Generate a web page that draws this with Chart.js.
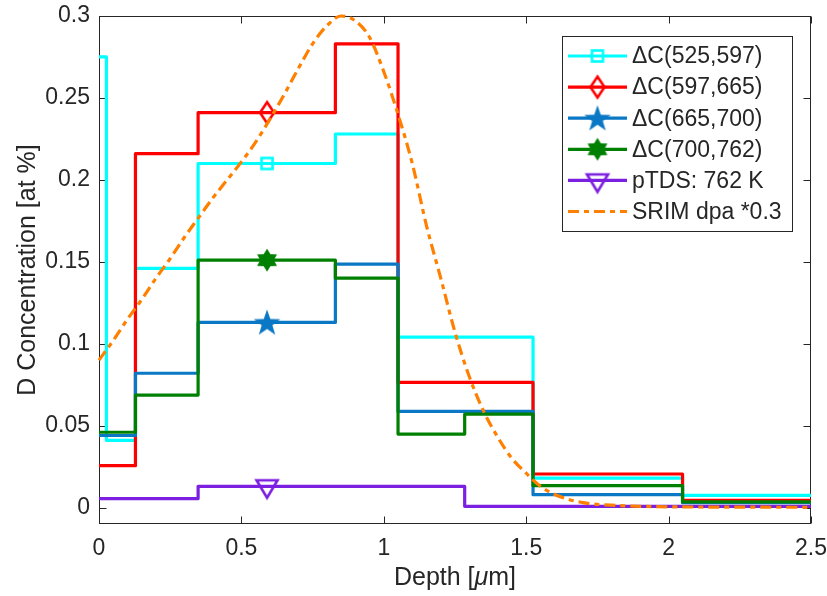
<!DOCTYPE html>
<html><head><meta charset="utf-8">
<script src="https://cdn.jsdelivr.net/npm/chart.js@4.4.1/dist/chart.umd.min.js"></script>
<style>html,body{margin:0;padding:0;background:#fff}#wrap{width:827px;height:596px;position:relative}</style>
</head><body><div id="wrap"><canvas id="c" width="827" height="596"></canvas></div>
<script>
// ---- data ----
const depthEdges = [0, 0.026, 0.128, 0.348, 0.830, 1.050, 1.284, 1.524, 2.049, 2.5];
const dc525_597 = [0.275, 0.041, 0.146, 0.210, 0.228, 0.104, 0.104, 0.018, 0.0075];
const dc597_665 = [0.0256, 0.0256, 0.216, 0.241, 0.283, 0.0764, 0.0764, 0.0205, 0.0045];
const dc665_700 = [0.044, 0.044, 0.082, 0.113, 0.1486, 0.0587, 0.0587, 0.0079, 0.003];
const dc700_762 = [0.046, 0.046, 0.0687, 0.151, 0.140, 0.0449, 0.057, 0.0134, 0.0035];
const ptds762 = [0.0055, 0.0055, 0.0055, 0.013, 0.013, 0.013, 0.0008, 0.0008, 0.0008];
const srimDepth = [0, 0.05, 0.1, 0.15, 0.2, 0.25, 0.3, 0.35, 0.4, 0.45, 0.5, 0.55, 0.6, 0.65, 0.7, 0.75, 0.8, 0.85, 0.9, 0.95, 1.0, 1.05, 1.1, 1.15, 1.2, 1.25, 1.3, 1.35, 1.4, 1.45, 1.5, 1.55, 1.6, 1.7, 1.8, 1.9, 2.0, 2.2, 2.5];
const srimDpa = [0.090, 0.102, 0.115, 0.127, 0.140, 0.152, 0.165, 0.177, 0.189, 0.200, 0.211, 0.223, 0.237, 0.252, 0.268, 0.283, 0.294, 0.300, 0.297, 0.287, 0.266, 0.240, 0.210, 0.172, 0.140, 0.107, 0.080, 0.059, 0.043, 0.030, 0.021, 0.013, 0.008, 0.003, 0.0015, 0.0008, 0.0005, 0.0003, 0.0002];
const markerDepth = 0.59;
const seriesNames = ['\u0394C(525,597)', '\u0394C(597,665)', '\u0394C(665,700)', '\u0394C(700,762)', 'pTDS: 762 K', 'SRIM dpa *0.3'];
const xTicks = [0, 0.5, 1, 1.5, 2, 2.5];
const xTickLabels = ['0', '0.5', '1', '1.5', '2', '2.5'];
const yTicks = [0, 0.05, 0.1, 0.15, 0.2, 0.25, 0.3];
const yTickLabels = ['0', '0.05', '0.1', '0.15', '0.2', '0.25', '0.3'];
const yTitle = 'D Concentration [at %]';

// ---- styles ----
const FONT = '"Liberation Sans", Arial, sans-serif';
const AX = '#262626';
const COLORS = ['#00FFFF', '#FF0000', '#0A78C4', '#008000', '#7B1FE0', '#FF8000'];
const LW = 3.2;
const DASH = [11, 5, 5, 5];

function mk(draw) {
  const c = document.createElement('canvas');
  c.width = 34; c.height = 34;
  const g = c.getContext('2d');
  draw(g, 17, 17);
  return c;
}
function starPath(g, cx, cy, n, R, r) {
  g.beginPath();
  for (let i = 0; i < 2 * n; i++) {
    const a = -Math.PI / 2 + i * Math.PI / n;
    const rr = i % 2 === 0 ? R : r;
    const px = cx + rr * Math.cos(a), py = cy + rr * Math.sin(a);
    if (i === 0) g.moveTo(px, py); else g.lineTo(px, py);
  }
  g.closePath();
}
const markers = [
  mk((g, cx, cy) => { g.strokeStyle = COLORS[0]; g.lineWidth = 2.6; g.strokeRect(cx - 5.5, cy - 5.5, 11, 11); }),
  mk((g, cx, cy) => { g.strokeStyle = COLORS[1]; g.lineWidth = 2.6; g.beginPath(); g.moveTo(cx, cy - 10.5); g.lineTo(cx + 7, cy); g.lineTo(cx, cy + 10.5); g.lineTo(cx - 7, cy); g.closePath(); g.stroke(); }),
  mk((g, cx, cy) => { g.fillStyle = COLORS[2]; starPath(g, cx, cy + 1, 5, 14, 5.6); g.fill(); }),
  mk((g, cx, cy) => { g.fillStyle = COLORS[3]; starPath(g, cx, cy, 6, 11.5, 6.8); g.fill(); }),
  mk((g, cx, cy) => { g.strokeStyle = COLORS[4]; g.lineWidth = 2.6; g.lineJoin = 'miter'; g.beginPath(); g.moveTo(cx - 10.5, cy - 6); g.lineTo(cx + 10.5, cy - 6); g.lineTo(cx, cy + 11.5); g.closePath(); g.stroke(); }),
];

function stepPoints(vals) {
  const pts = [];
  for (let i = 0; i < vals.length; i++) {
    pts.push({x: depthEdges[i], y: vals[i], m: false});
    if (markerDepth > depthEdges[i] && markerDepth < depthEdges[i + 1]) pts.push({x: markerDepth, y: vals[i], m: true});
  }
  pts.push({x: depthEdges[depthEdges.length - 1], y: vals[vals.length - 1], m: false});
  return pts;
}
const stepSeries = [dc525_597, dc597_665, dc665_700, dc700_762, ptds762];
const datasets = stepSeries.map((vals, k) => ({
  label: seriesNames[k],
  data: stepPoints(vals),
  borderColor: COLORS[k],
  backgroundColor: COLORS[k],
  borderWidth: LW,
  borderJoinStyle: 'round',
  stepped: 'before',
  fill: false,
  pointStyle: markers[k],
  pointRadius: ctx => (ctx.raw && ctx.raw.m) ? 8 : 0,
  pointHoverRadius: 0,
  order: 6 - k,
  clip: 2,
}));
datasets.push({
  label: seriesNames[5],
  data: srimDepth.map((x, i) => ({x: x, y: srimDpa[i]})),
  borderColor: COLORS[5],
  borderWidth: LW,
  borderDash: DASH,
  cubicInterpolationMode: 'monotone',
  tension: 0.4,
  pointRadius: 0,
  fill: false,
  order: 0,
  clip: 2,
});

const framePlugin = {
  id: 'frame',
  beforeDatasetsDraw(chart) {
    const {ctx, chartArea: a, scales: {x, y}} = chart;
    ctx.save();
    ctx.strokeStyle = AX; ctx.lineWidth = 1;
    const L = Math.round(a.left) + 0.5, R = Math.round(a.right) - 0.5, T = Math.round(a.top) + 0.5, B = Math.round(a.bottom) - 0.5;
    ctx.strokeRect(L, T, R - L, B - T);
    ctx.beginPath();
    const tl = 7;
    xTicks.forEach(v => {
      const px = Math.round(x.getPixelForValue(v)) + 0.5;
      ctx.moveTo(px, B); ctx.lineTo(px, B - tl);
      ctx.moveTo(px, T); ctx.lineTo(px, T + tl);
    });
    yTicks.forEach(v => {
      const py = Math.round(y.getPixelForValue(v)) + 0.5;
      ctx.moveTo(L, py); ctx.lineTo(L + tl, py);
      ctx.moveTo(R, py); ctx.lineTo(R - tl, py);
    });
    ctx.stroke();
    ctx.restore();
  },
  afterDraw(chart) {
    const {ctx, chartArea: a} = chart;
    ctx.save();
    // x title with italic mu
    const fs = 25;
    const p1 = 'Depth [', p2 = '\u03BC', p3 = 'm]';
    ctx.fillStyle = AX; ctx.textBaseline = 'middle'; ctx.textAlign = 'left';
    ctx.font = fs + 'px ' + FONT; const w1 = ctx.measureText(p1).width, w3 = ctx.measureText(p3).width;
    ctx.font = 'italic ' + fs + 'px ' + FONT; const w2 = ctx.measureText(p2).width;
    let tx = (a.left + a.right) / 2 - (w1 + w2 + w3) / 2;
    const ty = 578;
    ctx.font = fs + 'px ' + FONT; ctx.fillText(p1, tx, ty); tx += w1;
    ctx.font = 'italic ' + fs + 'px ' + FONT; ctx.fillText(p2, tx, ty); tx += w2;
    ctx.font = fs + 'px ' + FONT; ctx.fillText(p3, tx, ty);

    // legend
    const bx = 562.5, by = 36.5, bw = 230, bh = 195;
    ctx.fillStyle = '#fff'; ctx.fillRect(bx, by, bw, bh);
    ctx.strokeStyle = AX; ctx.lineWidth = 1; ctx.strokeRect(bx, by, bw, bh);
    const rowY0 = 56, rowDy = 31.1;
    for (let k = 0; k < 6; k++) {
      const ry = rowY0 + k * rowDy;
      ctx.save();
      ctx.strokeStyle = COLORS[k]; ctx.lineWidth = LW;
      if (k === 5) ctx.setLineDash(DASH);
      ctx.beginPath(); ctx.moveTo(568, ry); ctx.lineTo(627, ry); ctx.stroke();
      ctx.restore();
      if (k < 5) ctx.drawImage(markers[k], 597.5 - 17, ry - 17);
      ctx.fillStyle = AX; ctx.font = '23px ' + FONT; ctx.textBaseline = 'middle'; ctx.textAlign = 'left';
      ctx.fillText(seriesNames[k], 632, ry + 1);
    }
    ctx.restore();
  }
};

Chart.defaults.font.family = FONT;
Chart.defaults.color = AX;
new Chart(document.getElementById('c'), {
  type: 'line',
  data: {datasets: datasets},
  plugins: [framePlugin],
  options: {
    responsive: false,
    animation: false,
    events: [],
    layout: {padding: {left: 0, right: 16, top: 16, bottom: 0}},
    plugins: {legend: {display: false}, tooltip: {enabled: false}},
    scales: {
      x: {
        type: 'linear', min: 0, max: 2.5,
        grid: {display: false, drawTicks: false},
        border: {display: false},
        afterBuildTicks: s => { s.ticks = xTicks.map(v => ({value: v})); },
        afterFit: s => { s.height = 72; s.paddingLeft = 0; s.paddingRight = 0; },
        ticks: {font: {size: 23}, color: AX, padding: 11, maxRotation: 0, autoSkip: false,
          callback: (v, i) => xTickLabels[i]},
      },
      y: {
        type: 'linear', min: -0.01, max: 0.3,
        grid: {display: false, drawTicks: false},
        border: {display: false},
        afterBuildTicks: s => { s.ticks = yTicks.map(v => ({value: v})); },
        afterFit: s => { s.width = 99; s.paddingTop = 0; s.paddingBottom = 0; },
        ticks: {font: {size: 23}, color: AX, padding: 9, autoSkip: false,
          callback: (v, i) => yTickLabels[i]},
        title: {display: true, text: yTitle, font: {size: 25}, color: AX, padding: {top: 13, bottom: 0}},
      },
    },
  },
});
</script></body></html>
